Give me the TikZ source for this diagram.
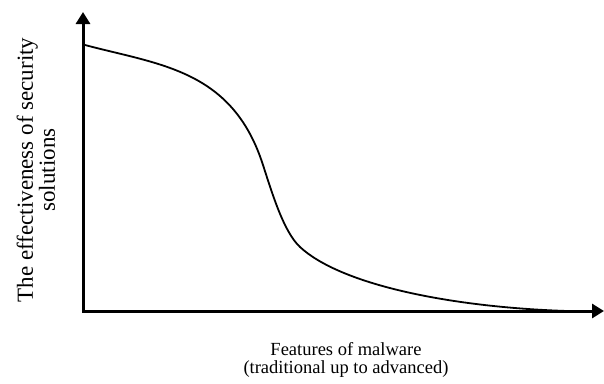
\documentclass[tikz,border=0pt]{standalone}
\usepackage{fontspec}
\setmainfont{Liberation Serif}
\usetikzlibrary{positioning}
\usetikzlibrary{arrows.meta}
\tikzset{
  axis/.style = {line width=3pt, -{Triangle[width=14pt,length=12pt]}},
  curve/.style = {line width=1.8pt},
  lbl/.style = {align=center, inner sep=0pt},
}

\begin{document}
\begin{tikzpicture}[x=1pt,y=-1pt]
\useasboundingbox (0,0) rectangle (604,383);
\coordinate (O) at (83,312.5);
\coordinate (Ytop) at (83,12);
\coordinate (Xend) at (604,311);
\draw[axis] (O) -- (Ytop);
\draw[axis] (O |- Xend) -- (Xend);
% effectiveness drops with malware features
\coordinate (A) at (85,45);
\coordinate (M) at (263,165);
\coordinate (N) at (300,247);
\coordinate (E) at (567,311);
\draw[curve] (A) .. controls (160,65) and (232.4,69.6) .. (M)
  .. controls (273,196) and (284,232) .. (N)
  .. controls (340,284) and (447,307) .. (E);
\node[lbl, rotate=90, font=\fontsize{23}{22}\selectfont] (ylab) at (36,170)
  {The effectiveness of security\\solutions};
\node[lbl, font=\fontsize{18.5}{17.5}\selectfont] (xlab) at (346,360)
  {Features of malware\\(traditional up to advanced)};
\end{tikzpicture}
\end{document}
